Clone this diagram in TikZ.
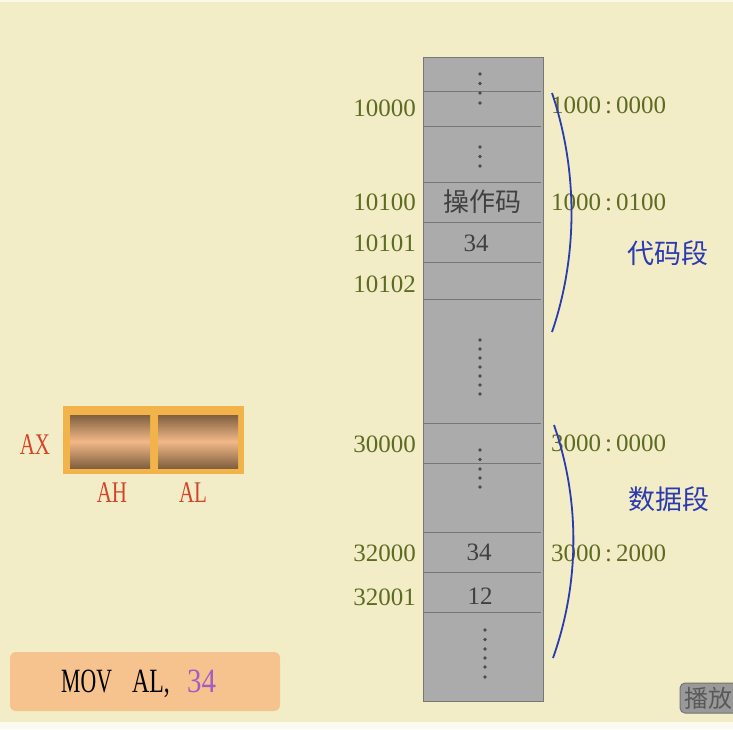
\documentclass[tikz,border=0pt]{standalone}
\usepackage{fontspec}
\setmainfont{Liberation Serif}
\newfontfamily\cjk{Noto Sans CJK SC}
\usetikzlibrary{positioning,shapes}

\definecolor{bgyellow}{HTML}{F2EDC6}
\definecolor{memgray}{HTML}{ABABAB}
\definecolor{memline}{HTML}{777777}
\definecolor{addrolive}{HTML}{5E6B22}
\definecolor{segblue}{HTML}{2B3AB0}
\definecolor{regred}{HTML}{D2452A}
\definecolor{regorange}{HTML}{F2B44A}
\definecolor{regbrown}{HTML}{80603F}
\definecolor{regpeach}{HTML}{F2B888}
\definecolor{insnpeach}{HTML}{F6C28E}
\definecolor{numpurple}{HTML}{A25CC4}

\newcommand{\segoff}[2]{#1\hspace{4pt}:\hspace{4pt}#2}

\tikzset{
  addr/.style={anchor=east,text=addrolive,font=\fontsize{25}{25}\selectfont,inner sep=0pt},
  segaddr/.style={anchor=west,text=addrolive,font=\fontsize{25}{25}\selectfont,inner sep=0pt},
  cell/.style={text=black!75,font=\fontsize{25}{25}\selectfont,inner sep=0pt},
  seg/.style={text=segblue,font=\cjk\fontsize{27}{27}\selectfont,inner sep=0pt},
  reglabel/.style={text=regred,font=\fontsize{30}{30}\selectfont,inner sep=0pt},
  insn/.style={anchor=base west,inner sep=0pt,font=\fontsize{34}{34}\selectfont},
  brace/.style={draw=segblue,line width=1.8pt},
  dot/.style={fill=black!70}
}

\begin{document}
\begin{tikzpicture}[x=1pt,y=-1pt]
\useasboundingbox (0,0) rectangle (733,729);
\clip (0,0) rectangle (733,729);

% background
\fill[bgyellow] (0,0) rectangle (733,729);
\fill[white!60!bgyellow] (0,0) rectangle (733,2);
\fill[white!70!bgyellow] (0,722) rectangle (733,729);

% memory column
\filldraw[fill=memgray,draw=memline,line width=0.8pt] (423,57) rectangle (543,701);
\foreach \y in {91,126,182,222,262,299,423,463,532,572,612}
  \draw[memline,line width=1pt] (424,\y) -- (541,\y);

% dots
\foreach \y in {74,83.5,93,103} \fill[dot] (480,\y) circle (1.8);
\foreach \y in {147,156.5,166} \fill[dot] (480,\y) circle (1.8);
\foreach \y in {340,349,358,367,376,385,394} \fill[dot] (480,\y) circle (1.8);
\foreach \y in {450,459.5,469,478,487} \fill[dot] (480,\y) circle (1.8);
\foreach \y in {630,639.5,649,658,667,677} \fill[dot] (485,\y) circle (1.8);

% cell contents
\node[cell,font=\cjk\fontsize{26}{26}\selectfont] (opcode) at (482,202) {操作码};
\node[cell] (c10101) at (476,243) {34};
\node[cell] (c32000) at (479,552) {34};
\node[cell] (c32001) at (480,596) {12};

% physical addresses
\foreach \name/\y/\txt in {a1/108/10000,a2/202/10100,a3/243/10101,a4/284/10102,
                           a5/444/30000,a6/553/32000,a7/597/32001}
  \node[addr] (\name) at (416,\y) {\txt};

% segment:offset addresses
\foreach \name/\y/\sg/\off in {s1/105/1000/0000,s2/202/1000/0100,s3/443/3000/0000,s4/553/3000/2000}
  \node[segaddr] (\name) at (551,\y) {\segoff{\sg}{\off}};

% segment braces
\draw[brace] (552,93) .. controls (578,170) and (578,256) .. (552,332);
\draw[brace] (554,425) .. controls (580,500) and (580,582) .. (553,658);
\node[seg] (code) at (668,253) {代码段};
\node[seg] (data) at (669,499) {数据段};

% register AX
\fill[regorange] (63,406) rectangle (244,474);
\shade[top color=regbrown,bottom color=regbrown,middle color=regpeach] (70,415) rectangle (150,468);
\shade[top color=regbrown,bottom color=regbrown,middle color=regpeach] (158,415) rectangle (238,468);
\node[reglabel] (ax) at (35,445) {\scalebox{0.7}[1]{AX}};
\node[reglabel] (ah) at (112,493) {\scalebox{0.7}[1]{AH}};
\node[reglabel] (al) at (193,493) {\scalebox{0.7}[1]{AL}};

% instruction
\fill[insnpeach,rounded corners=6pt] (10,652) rectangle (280,711);
\node[insn] (mov) at (61,692) {\scalebox{0.64}[1]{MOV}};
\node[insn] (dest) at (132,692) {\scalebox{0.7}[1]{AL,}};
\node[insn,text=numpurple] (imm) at (187,692) {\scalebox{0.85}[1]{34}};

% play button
\filldraw[fill=black!40,draw=black!55,line width=1pt,rounded corners=5pt] (680,683) rectangle (760,713);
\node[text=black!65,font=\cjk\fontsize{24}{24}\selectfont,anchor=west,inner sep=0pt] (play) at (684,698) {播放};
\end{tikzpicture}
\end{document}
